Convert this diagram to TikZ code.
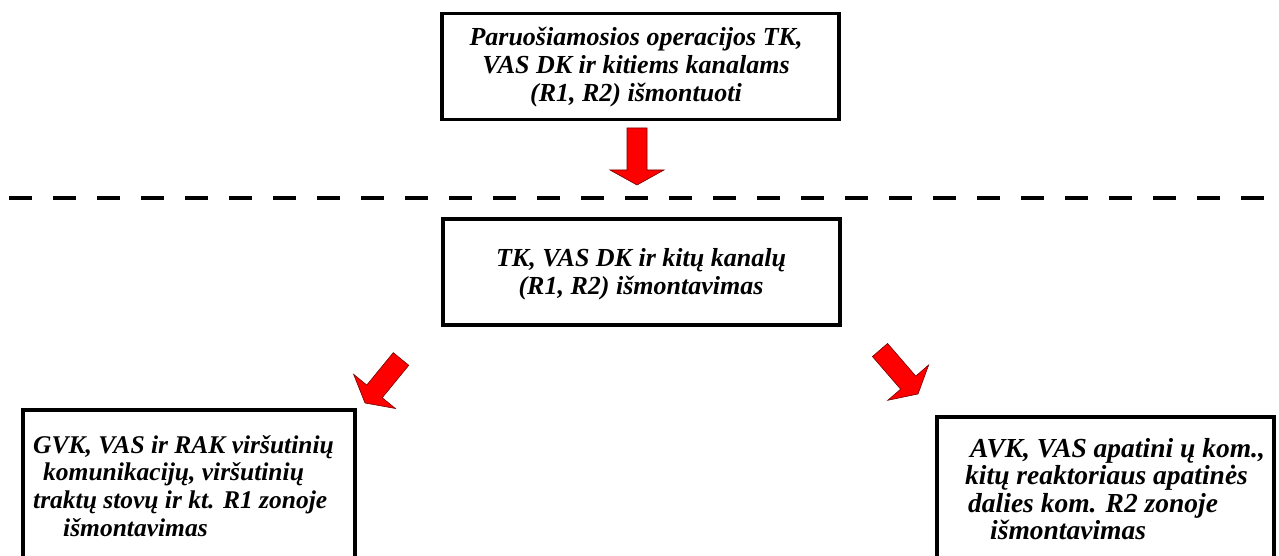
\documentclass[tikz,border=0pt]{standalone}
\usepackage{fontspec}
\setmainfont{Liberation Serif}
\usetikzlibrary{calc}
\tikzset{
  box/.style={draw, line width=3.5pt, inner sep=0pt, anchor=north west},
  lbl/.style={inner sep=0pt, font=\fontsize{26}{28}\selectfont\bfseries\itshape},
  biglbl/.style={lbl, font=\fontsize{27.5}{27.5}\selectfont\bfseries\itshape},
  blk/.style={fill=red, draw=red!45!black, line width=0.6pt, line join=miter},
  sep/.style={line width=4pt, dash pattern=on 23pt off 21pt}
}
\newcommand\blockarrow[2]{%
  \coordinate (#1-b) at ($(#2)!15pt!(#1)$);
  \draw[blk] ($(#1)!10pt!90:(#2)$) -- ($(#1-b)!10pt!90:(#2)$) -- ($(#1-b)!27pt!90:(#2)$)
    -- (#2) -- ($(#1-b)!27pt!-90:(#2)$) -- ($(#1-b)!10pt!-90:(#2)$) -- ($(#1)!10pt!-90:(#2)$) -- cycle;
}
\begin{document}
\begin{tikzpicture}[x=1pt,y=-1pt]
  \useasboundingbox (0,0) rectangle (1279,556);
  \clip (0,0) rectangle (1279,556);
  \fill[white] (0,0) rectangle (1279,556);

  % boxes
  \node[box, minimum width=397pt, minimum height=106pt] (top) at (440,12) {};
  \node[box, minimum width=397pt, minimum height=106pt] (mid) at (441,217) {};
  \node[box, minimum width=332pt, minimum height=165pt] (left) at (21,408) {};
  \node[box, minimum width=337pt, minimum height=160pt] (right) at (935,415) {};

  % texts
  \node[lbl, align=center] (toptxt) at (636,67) {Paruošiamosios operacijos TK,\\VAS DK ir kitiems kanalams\\(R1, R2) išmontuoti};
  \node[lbl, align=center] (midtxt) at (641,274) {TK, VAS DK ir kitų kanalų\\(R1, R2) išmontavimas};
  \node[lbl, font=\fontsize{25.5}{27.7}\selectfont\bfseries\itshape, align=left, anchor=north west] (lefttxt) at (33,435)
    {GVK, VAS ir RAK viršutinių\\\hspace*{10pt}komunikacijų, viršutinių\\traktų stovų ir kt. R1 zonoje\\\hspace*{30pt}išmontavimas};
  \node[biglbl, align=left, anchor=north west] (righttxt) at (965,438)
    {\hspace*{5pt}AVK, VAS apatini ų kom.,\\kitų reaktoriaus apatinės\\\hspace*{3pt}dalies kom. R2 zonoje\\\hspace*{25pt}išmontavimas};

  % dashed separator
  \coordinate (sepL) at (9,198);
  \coordinate (sepR) at (1285,198);
  \draw[sep] (sepL) -- (sepR);

  % block arrows
  \coordinate (a1s) at (637,128);
  \coordinate (a1t) at (637,185);
  \blockarrow{a1s}{a1t}
  \coordinate (a2s) at (401,359);
  \coordinate (a2t) at (365,403);
  \blockarrow{a2s}{a2t}
  \coordinate (a3s) at (880,350);
  \coordinate (a3t) at (918,394);
  \blockarrow{a3s}{a3t}
\end{tikzpicture}
\end{document}
